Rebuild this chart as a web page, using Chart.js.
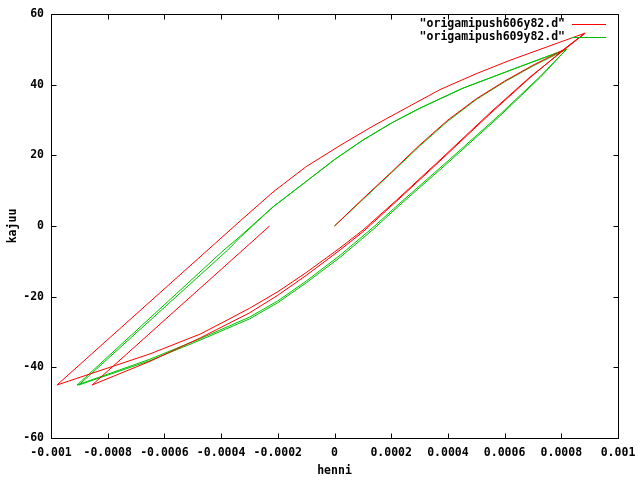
<!DOCTYPE html>
<html><head><meta charset="utf-8">
<script src="https://cdn.jsdelivr.net/npm/chart.js@4/dist/chart.umd.min.js"></script>
<style>html,body{margin:0;padding:0;background:#fff}#wrap{width:640px;height:480px}</style>
</head><body><div id="wrap"><canvas id="c" width="640" height="480"></canvas></div>
<script>
const seriesNames = ['"origamipush606y82.d"', '"origamipush609y82.d"'];
const seriesColors = ['#ff0000', '#00c000'];

const redX = [0, 0.0001, 0.0002, 0.0003, 0.0004, 0.0005, 0.0006, 0.0007, 0.000806, 0.000884,
  0.000806, 0.000690, 0.000548, 0.000372, 0.000220, 0.000101, 0.0000194, -0.0001, -0.0002, -0.0003,
  -0.000397, -0.000474, -0.000651, -0.000979,
  -0.000404, -0.000333, -0.000217, -0.0001, 0.00002, 0.000136, 0.000372, 0.000503, 0.000619, 0.000884,
  0.000806, 0.000690, 0.000548, 0.000372, 0.000220, 0.000101, 0.0000194, -0.0001, -0.0002, -0.0003,
  -0.000474, -0.000651, -0.000855, -0.000229];
const redY = [0, 7.7, 15.2, 22.9, 30.0, 36.0, 41.0, 45.5, 49.8, 54.6,
  49.6, 42.2, 32.0, 18.7, 7.4, -1.1, -6.2, -13.2, -18.6, -23.3,
  -27.4, -30.6, -36.2, -45.0,
  -3.7, 1.4, 9.6, 16.8, 22.8, 28.3, 38.6, 43.2, 46.9, 54.6,
  49.8, 42.0, 31.7, 18.4, 7.1, -1.6, -6.8, -14.0, -19.6, -24.6,
  -31.7, -38.3, -45.0, 0.0];

const greenX = [0, 0.0001, 0.0002, 0.0003, 0.0004, 0.0005, 0.0006, 0.0007, 0.000818,
  0.000725, 0.000584, 0.000407, 0.000231, 0.000136, 0.0000194, -0.0001, -0.0002, -0.0003, -0.000474, -0.000651, -0.000908,
  -0.000386, -0.000344, -0.000217, -0.0001, 0.0000, 0.0001, 0.0002, 0.0003, 0.000453, 0.000644, 0.000818,
  0.000725, 0.000584, 0.000407, 0.000231, 0.000136, 0.0000194, -0.0001, -0.0002, -0.0003, -0.000474, -0.000651, -0.000902,
  -0.000378, -0.000330, -0.000217, -0.0001, 0.0000, 0.0001, 0.0002, 0.0003, 0.000453, 0.000644, 0.000818];
const greenY = [0, 7.5, 15.0, 22.6, 29.7, 35.8, 40.8, 45.3, 50.0,
  42.3, 31.6, 18.9, 6.5, -0.4, -8.3, -15.6, -21.2, -25.8, -31.9, -37.7, -45.0,
  -6.5, -3.7, 5.4, 12.6, 18.8, 24.3, 29.1, 33.3, 39.0, 44.8, 50.0,
  42.0, 31.2, 18.4, 6.0, -1.0, -8.9, -16.1, -21.7, -26.3, -32.3, -38.1, -45.0,
  -6.9, -3.0, 5.4, 12.6, 18.8, 24.3, 29.1, 33.3, 39.0, 44.8, 50.0];

const xTicks = [-0.001, -0.0008, -0.0006, -0.0004, -0.0002, 0, 0.0002, 0.0004, 0.0006, 0.0008, 0.001];
const xTickLabels = ['-0.001', '-0.0008', '-0.0006', '-0.0004', '-0.0002', '0', '0.0002', '0.0004', '0.0006', '0.0008', '0.001'];
const yTicks = [-60, -40, -20, 0, 20, 40, 60];
const yTickLabels = ['-60', '-40', '-20', '0', '20', '40', '60'];
const xTitle = 'henni';
const yTitle = 'kajuu';

const FONT = {family: "'DejaVu Sans Mono', monospace", size: 11.5, weight: 'bold'};

function pts(xs, ys) { return xs.map((x, i) => ({x: x, y: ys[i]})); }

const frame = {
  id: 'frame',
  afterDatasetsDraw(chart) {
    const ctx = chart.ctx, a = chart.chartArea;
    const xs = chart.scales.x, ys = chart.scales.y;
    const L = Math.round(a.left) + 0.5, R = Math.round(a.right) + 0.5;
    const T = Math.round(a.top) + 0.5, B = Math.round(a.bottom) + 0.5;
    ctx.save();
    ctx.strokeStyle = '#000'; ctx.lineWidth = 1;
    ctx.beginPath();
    ctx.rect(L, T, R - L, B - T);
    const tl = 5;
    xTicks.forEach(v => {
      const p = Math.round(xs.getPixelForValue(v)) + 0.5;
      ctx.moveTo(p, B); ctx.lineTo(p, B - tl);
      ctx.moveTo(p, T); ctx.lineTo(p, T + tl);
    });
    yTicks.forEach(v => {
      const p = Math.round(ys.getPixelForValue(v)) + 0.5;
      ctx.moveTo(L, p); ctx.lineTo(L + tl, p);
      ctx.moveTo(R, p); ctx.lineTo(R - tl, p);
    });
    ctx.stroke();
    ctx.font = `${FONT.weight} ${FONT.size}px ${FONT.family}`;
    ctx.textAlign = 'right'; ctx.textBaseline = 'middle';
    chart.data.datasets.forEach((ds, i) => {
      const y = 24 + 13 * i;
      ctx.fillStyle = '#000';
      ctx.fillText(ds.label, 565, y + 0.5);
      ctx.strokeStyle = ds.borderColor;
      ctx.beginPath(); ctx.moveTo(572, y + 0.5); ctx.lineTo(606, y + 0.5); ctx.stroke();
    });
    ctx.restore();
  }
};

new Chart(document.getElementById('c'), {
  type: 'scatter',
  data: {
    datasets: [
      {label: seriesNames[0], data: pts(redX, redY), borderColor: seriesColors[0], backgroundColor: seriesColors[0]},
      {label: seriesNames[1], data: pts(greenX, greenY), borderColor: seriesColors[1], backgroundColor: seriesColors[1]}
    ].map(d => Object.assign(d, {showLine: true, borderWidth: 1, pointRadius: 0, tension: 0, fill: false}))
  },
  options: {
    responsive: false,
    devicePixelRatio: 1,
    animation: false,
    layout: {padding: {top: 14, right: 22, left: 0, bottom: 0}},
    plugins: {legend: {display: false}, tooltip: {enabled: false}},
    scales: {
      x: {
        type: 'linear', min: -0.001, max: 0.001,
        afterBuildTicks: s => { s.ticks = xTicks.map(v => ({value: v})); },
        afterFit: s => { s.height = 42; s.paddingLeft = 0; s.paddingRight = 0; },
        ticks: {font: FONT, color: '#000', padding: 8, maxRotation: 0, autoSkip: false,
          callback: (v, i) => xTickLabels[i]},
        grid: {display: false, drawTicks: false},
        border: {display: false},
        title: {display: true, text: xTitle, font: FONT, color: '#000', padding: {top: 0, bottom: 2}}
      },
      y: {
        type: 'linear', min: -60, max: 60,
        afterBuildTicks: s => { s.ticks = yTicks.map(v => ({value: v})); },
        afterFit: s => { s.width = 51; s.paddingTop = 0; s.paddingBottom = 0; },
        ticks: {font: FONT, color: '#000', padding: 7, autoSkip: false,
          callback: (v, i) => yTickLabels[i]},
        grid: {display: false, drawTicks: false},
        border: {display: false},
        title: {display: true, text: yTitle, font: FONT, color: '#000', padding: {top: 6, bottom: 0}}
      }
    }
  },
  plugins: [frame]
});
</script>
</body></html>
